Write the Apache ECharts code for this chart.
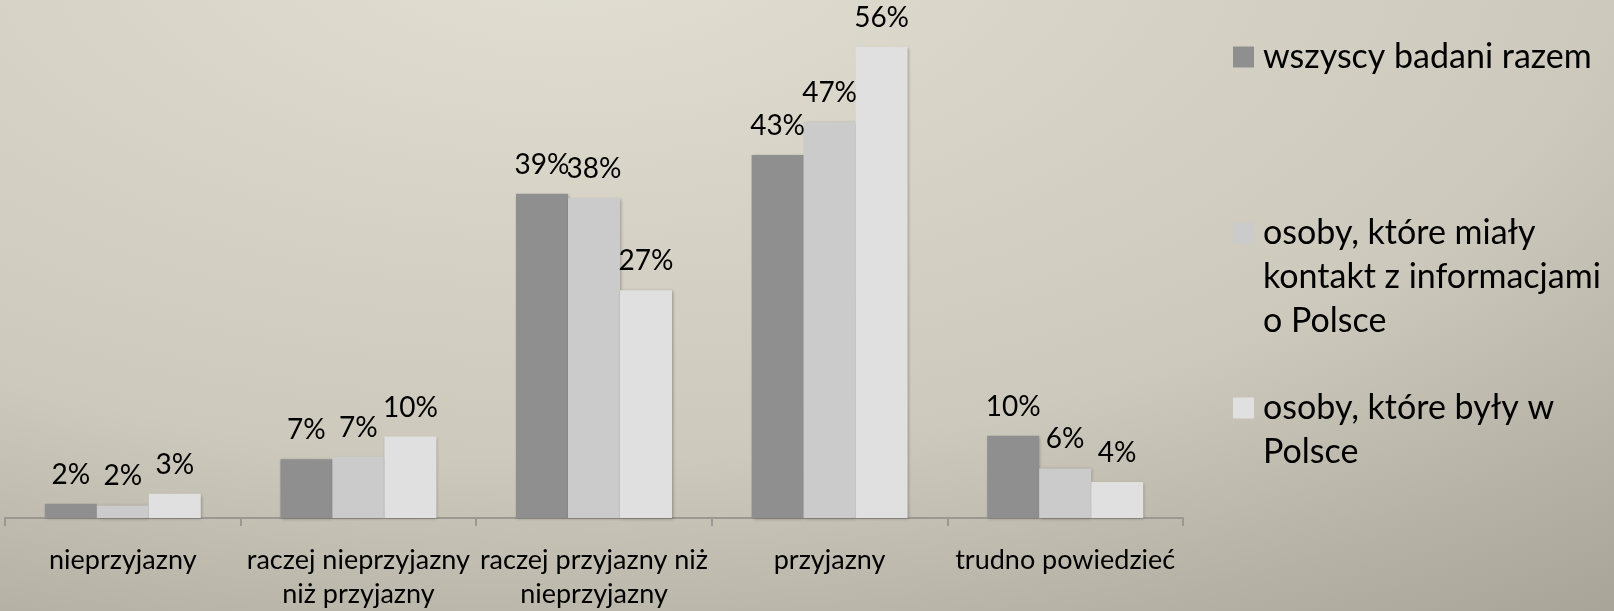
<!DOCTYPE html>
<html>
<head>
<meta charset="utf-8">
<title>Stosunek do Polaków</title>
<script src="https://cdn.jsdelivr.net/npm/echarts@6/dist/echarts.min.js"></script>
<style>
	html, body { margin:0; padding:0; }
	#main {
		width:1614px; height:611px;
		background: radial-gradient(ellipse 130% 170% at 35% -10%, #e2dfd3 0%, #d6d3c6 28%, #cdc9bc 50%, #b5b1a4 70%, #a8a497 82%, #9c988b 100%);
	}
</style>
</head>
<body>
<div id="main"></div>
<script>
	// kategorie osi X
	var categories = ['nieprzyjazny', 'raczej nieprzyjazny\nniż przyjazny', 'raczej przyjazny niż\nnieprzyjazny', 'przyjazny', 'trudno powiedzieć'];
	// nazwy serii
	var seriesNames = ['wszyscy badani razem', 'osoby, które miały kontakt z informacjami o Polsce', 'osoby, które były w Polsce'];
	// wartości (%)
	var wszyscy = [1.7, 7.0, 38.6, 43.2, 9.8];
	var kontakt = [1.5, 7.3, 38.1, 47.1, 5.9];
	var byli = [2.9, 9.7, 27.1, 56.1, 4.3];
	var colors = ['#8f8f8f', '#cbcbcb', '#e0e0e0'];

	var FONT = 'Lato';

	function makeSeries(name, data, color){
		return {
			name: name,
			type: 'bar',
			data: data,
			barWidth: 52,
			barGap: 0,
			itemStyle: {
				color: color,
				shadowColor: 'rgba(0,0,0,0.3)',
				shadowBlur: 3,
				shadowOffsetX: 1,
				shadowOffsetY: 1
			},
			label: {
				show: true,
				position: 'top',
				distance: 15,
				color: '#000',
				fontFamily: FONT,
				fontSize: 28,
				formatter: function(p){ return Math.round(p.value) + '%'; }
			}
		};
	}

	//legenda - osobno dla każdej serii
	function makeLegend(name, top, text){
		return {
			data: [name],
			left: 1233,
			top: top,
			orient: 'vertical',
			padding: 0,
			icon: 'rect',
			itemWidth: 21,
			itemHeight: 21,
			selectedMode: false,
			formatter: function(){ return text; },
			textStyle: {
				color: '#000',
				fontFamily: FONT,
				fontSize: 34,
				lineHeight: 44,
				padding: [0, 0, 0, 4]
			}
		};
	}

	var myChart = echarts.init(document.getElementById('main'));
	var option = {
		backgroundColor: 'transparent',
		animation: false,
		color: colors,
		legend: [
			makeLegend(seriesNames[0], 35, 'wszyscy badani razem'),
			makeLegend(seriesNames[1], 123, '\n\nosoby, które miały\nkontakt z informacjami\no Polsce'),
			makeLegend(seriesNames[2], 342, '\nosoby, które były w\nPolsce')
		],
		grid: {
			left: 5,
			right: 431,
			top: 14,
			bottom: 88,
			containLabel: false
		},
		xAxis: {
			type: 'category',
			data: categories,
			axisLine: { lineStyle: { color: '#9a9891', width: 2 } },
			axisTick: { show: true, length: 8, lineStyle: { color: '#9a9891', width: 2 } },
			axisLabel: {
				color: '#000',
				fontFamily: FONT,
				fontSize: 27,
				lineHeight: 34,
				margin: 25,
				interval: 0
			}
		},
		yAxis: {
			type: 'value',
			min: 0,
			max: 60,
			show: false,
			splitLine: { show: false }
		},
		series: [
			makeSeries(seriesNames[0], wszyscy, colors[0]),
			makeSeries(seriesNames[1], kontakt, colors[1]),
			makeSeries(seriesNames[2], byli, colors[2])
		]
	};
	myChart.setOption(option);
</script>
</body>
</html>
